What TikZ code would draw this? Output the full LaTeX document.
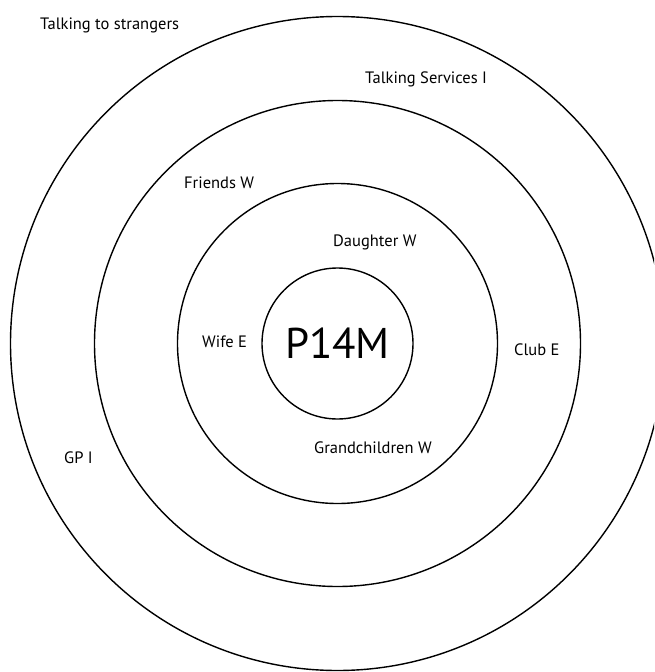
\documentclass[tikz,border=0pt]{standalone}
\usepackage{fontspec}
\setmainfont{PT Sans}
\begin{document}
\begin{tikzpicture}[x=1pt,y=-1pt,
  ring/.style={draw=black,line width=1.4pt},
  lbl/.style={anchor=base west,inner sep=0pt,font=\fontsize{16.5}{18}\selectfont}]
\useasboundingbox (0,0) rectangle (654,672);
\clip (0,0) rectangle (654,672);
\coordinate (c) at (337.5,343.5);
% four concentric rings
\draw[ring] (c) circle[radius=327];
\draw[ring] (c) circle[radius=243];
\draw[ring] (c) circle[radius=160];
\draw[ring] (c) circle[radius=75.5];
% centre label
\node[inner sep=0pt,font=\fontsize{43}{46}\selectfont] (p) at (c) {P14M};
% ring labels
\node[lbl] (strangers) at (40,29) {Talking to strangers};
\node[lbl] (services) at (365,83) {Talking Services I};
\node[lbl] (friends) at (184,188) {Friends W};
\node[lbl] (daughter) at (333,246) {Daughter W};
\node[lbl] (wife) at (202,347) {Wife E};
\node[lbl] (club) at (514,355) {Club E};
\node[lbl] (grand) at (314,453) {Grandchildren W};
\node[lbl] (gp) at (64,463) {GP I};
\end{tikzpicture}
\end{document}
